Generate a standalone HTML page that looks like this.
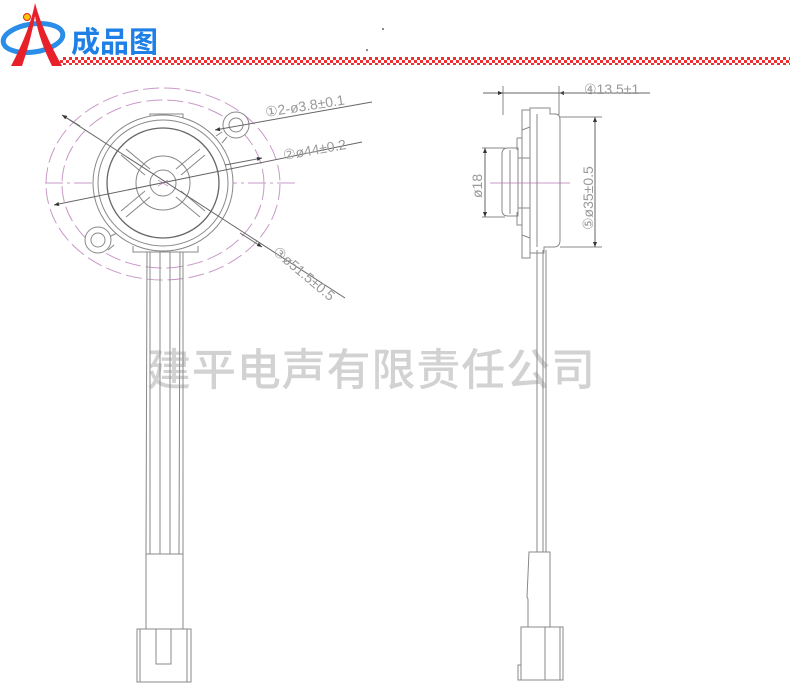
<!DOCTYPE html>
<html><head><meta charset="utf-8"><style>
html,body{margin:0;padding:0;background:#fff;width:790px;height:696px;overflow:hidden}
svg{display:block}
</style></head><body>
<svg width="790" height="696" viewBox="0 0 790 696" xmlns="http://www.w3.org/2000/svg">
<defs>
<pattern id="chk" width="6" height="6" patternUnits="userSpaceOnUse">
<rect width="6" height="6" fill="#fff"/>
<rect x="0" y="0" width="3" height="3" fill="#f03030"/>
<rect x="3" y="3" width="3" height="3" fill="#f03030"/>
</pattern>
<marker id="ar" viewBox="0 0 10 10" refX="10" refY="5" markerWidth="7" markerHeight="5" orient="auto-start-reverse"><path d="M0,1 L10,5 L0,9z" fill="#333"/></marker>
</defs>
<rect x="60" y="57" width="730" height="8" fill="url(#chk)"/>
<ellipse cx="33" cy="38" rx="30" ry="14" fill="none" stroke="#2a8ee8" stroke-width="5" transform="rotate(-8 33 38)"/>
<path d="M35,3 Q30,30 11,66 L22,66 Q31,40 35,16 Q39,40 52,66 L62,66 Q42,30 35,3z" fill="#e8202a"/>
<circle cx="27" cy="17" r="3.5" fill="#f5c800" stroke="#e8202a" stroke-width="1"/>
<text x="71" y="52" font-family="'Liberation Sans','Noto Sans CJK SC',sans-serif" font-size="29" font-weight="bold" fill="#1e80e6">成品图</text>
<circle cx="383" cy="29" r="0.8" fill="#000"/><circle cx="367" cy="50" r="0.8" fill="#000"/>

<text x="147" y="385" font-family="'Noto Sans CJK SC',sans-serif" font-size="44" font-weight="500" fill="#d2d2d2" textLength="448">建平电声有限责任公司</text>

<g fill="none" stroke="#888" stroke-width="1">
<ellipse cx="163" cy="184" rx="117" ry="96" stroke="#c89ac8" stroke-dasharray="16,5"/>
<ellipse cx="163" cy="184" rx="101" ry="84" stroke="#c89ac8" stroke-dasharray="16,5"/>
<line x1="45" y1="183" x2="297" y2="183" stroke="#c89ac8" stroke-dasharray="18,4,3,4"/>
<path d="M150,120 v-6 h33 v6"/>
<path d="M133,246 v6 h65 v-6"/>
<circle cx="236" cy="125" r="13" fill="#fff"/>
<circle cx="236" cy="125" r="7"/>
<circle cx="98" cy="240" r="13" fill="#fff"/>
<circle cx="98" cy="240" r="7"/>
<path d="M222,132 l-6,4 M227,137 l-5,6 M111,236 l6,-3 M108,250 l6,-5"/>
<ellipse cx="163" cy="183" rx="70" ry="68" fill="#fff"/>
<ellipse cx="163" cy="183" rx="65" ry="63"/>
<ellipse cx="163" cy="183" rx="56" ry="55" stroke="#666" stroke-width="1.3"/>
<circle cx="163" cy="183" r="27"/>
<circle cx="163" cy="183" r="13"/>
<path d="M126,149 l24,20 M121,155 l24,20 M200,149 l-24,20 M205,155 l-24,20 M126,217 l24,-20 M121,211 l24,-20 M200,217 l-24,-20 M205,211 l-24,-20"/>
<path d="M158,180 l10,6 M158,186 l10,-6" stroke="#c89ac8"/>
<path d="M147,252 L146,554 M150,252 L150,554 M160,252 L160,554 M170,252 L170,554 M180,252 L179,554 M183,252 L183,554"/>
<rect x="146" y="554" width="37" height="75"/>
<rect x="137" y="629" width="54" height="53"/>
<path d="M140,629 v53 M187,629 v53 M156,629 v35 h15 v-35"/>
<line x1="215" y1="130" x2="372" y2="102" stroke="#666" marker-start="url(#ar)"/>
<line x1="54" y1="205" x2="362" y2="142" stroke="#666" marker-start="url(#ar)"/>
<line x1="225" y1="165" x2="262" y2="158" stroke="#666" marker-end="url(#ar)"/>
<line x1="62" y1="115" x2="345" y2="298" stroke="#666"/>
<line x1="62" y1="115" x2="80" y2="126" stroke="#666" marker-start="url(#ar)"/>
<line x1="240" y1="233" x2="262" y2="247" stroke="#666" marker-end="url(#ar)"/>

<line x1="490" y1="183" x2="570" y2="183" stroke="#c89ac8"/>
<path d="M522,110 h8 v-2 h20 v6 h5 q5,0 5,6 v120 q0,7 -6,7 h-10 v6 h-14 v5 h-8z"/>
<path d="M530,108 v145 M537,114 v133 M522,130 l8,-3 M522,235 l8,3"/>
<path d="M517,138 h5 M517,138 v12 M517,212 v13 h5"/>
<path d="M518,148 h-10 q-6,0 -6,6 v56 q0,6 6,6 h10z"/>
<path d="M510,150 v64 M518,158 h12 v50 h-12"/>
<path d="M537,250 L537,552 M543,250 L543,552 M546,250 L546,552"/>
<path d="M529,552 h21 v75 h-22 v-28 l-1,-2 z"/>
<rect x="521" y="627" width="42" height="53"/>
<path d="M545,627 v53 M560,627 v53 M521,665 h-3 v15 h3"/>
<line x1="503" y1="115" x2="503" y2="86"/>
<line x1="559" y1="115" x2="559" y2="86"/>
<line x1="483" y1="93" x2="503" y2="93" stroke="#666" marker-end="url(#ar)"/>
<line x1="503" y1="93" x2="559" y2="93" stroke="#666"/>
<line x1="580" y1="93" x2="559" y2="93" stroke="#666" marker-end="url(#ar)"/>
<line x1="559" y1="93" x2="650" y2="93" stroke="#666"/>
<line x1="560" y1="117" x2="602" y2="117"/>
<line x1="560" y1="247" x2="602" y2="247"/>
<line x1="595" y1="117" x2="595" y2="247" stroke="#666" marker-start="url(#ar)" marker-end="url(#ar)"/>
<line x1="482" y1="148" x2="505" y2="148"/>
<line x1="482" y1="217" x2="505" y2="217"/>
<line x1="485" y1="148" x2="485" y2="217" stroke="#666" marker-start="url(#ar)" marker-end="url(#ar)"/>
</g>
<g font-family="'Liberation Sans','DejaVu Sans',sans-serif" fill="#999" font-size="14">
<text x="266" y="117" transform="rotate(-9 266 117)">①2-ø3.8±0.1</text>
<text x="284" y="160" transform="rotate(-10 284 160)">②ø44±0.2</text>
<text x="272" y="253" transform="rotate(40 272 253)">③ø51.5±0.5</text>
<text x="584" y="94">④13.5±1</text>
<text x="593" y="230" transform="rotate(-90 593 230)">⑤ø35±0.5</text>
<text x="482" y="198" transform="rotate(-90 482 198)">ø18</text>
</g>
</svg>
</body></html>
